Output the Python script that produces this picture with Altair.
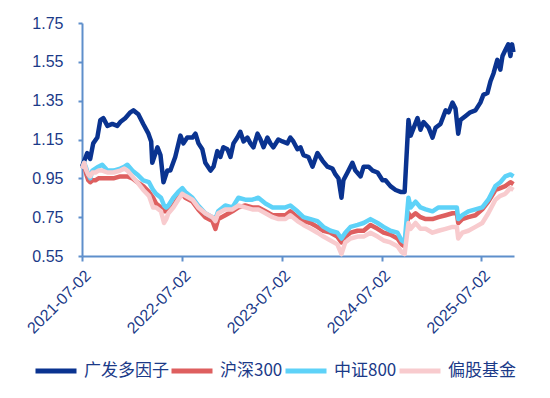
import altair as alt
import pandas as pd

# ---------------- data ----------------
series_names = ["广发多因子", "沪深300", "中证800", "偏股基金"]
series_colors = ["#0A3390", "#DE5F5F", "#5ED2F8", "#F8CBCE"]

fund_dates = [
    "2021-07-02", "2021-07-21", "2021-08-01", "2021-08-12", "2021-08-27", "2021-09-07",
    "2021-09-18", "2021-10-03", "2021-10-21", "2021-11-08", "2021-11-19", "2021-12-07",
    "2021-12-26", "2022-01-06", "2022-01-24", "2022-02-11", "2022-03-02", "2022-03-12",
    "2022-03-16", "2022-04-04", "2022-04-15", "2022-04-26", "2022-05-10", "2022-05-21",
    "2022-06-08", "2022-06-27", "2022-07-08", "2022-07-22", "2022-08-10", "2022-08-21",
    "2022-09-01", "2022-09-15", "2022-09-26", "2022-10-15", "2022-10-26", "2022-11-09",
    "2022-11-20", "2022-12-01", "2022-12-16", "2022-12-27", "2023-01-07", "2023-01-21",
    "2023-02-01", "2023-02-13", "2023-02-27", "2023-03-10", "2023-03-21", "2023-04-05",
    "2023-04-16", "2023-04-27", "2023-05-11", "2023-05-22", "2023-06-02", "2023-06-20",
    "2023-07-05", "2023-07-23", "2023-08-03", "2023-08-14", "2023-08-29", "2023-09-09",
    "2023-09-20", "2023-10-08", "2023-10-23", "2023-11-10", "2023-11-29", "2023-12-17",
    "2024-01-04", "2024-01-15", "2024-01-26", "2024-02-06", "2024-02-13", "2024-02-28",
    "2024-03-17", "2024-03-28", "2024-04-16", "2024-04-27", "2024-05-15", "2024-05-30",
    "2024-06-17", "2024-07-05", "2024-07-16", "2024-08-03", "2024-08-22", "2024-09-09",
    "2024-09-24", "2024-10-08", "2024-10-16", "2024-10-27", "2024-11-10", "2024-11-21",
    "2024-12-02", "2024-12-21", "2025-01-04", "2025-01-15", "2025-02-02", "2025-02-21",
    "2025-03-04", "2025-03-18", "2025-03-29", "2025-04-08", "2025-04-16", "2025-05-04",
    "2025-05-22", "2025-06-10", "2025-06-28", "2025-07-09", "2025-07-24", "2025-08-04",
    "2025-08-15", "2025-08-29", "2025-09-09", "2025-09-17", "2025-09-27", "2025-10-08",
    "2025-10-16", "2025-10-22", "2025-10-27",
]
fund_values = [
    1.01, 1.08, 1.05, 1.13, 1.16, 1.25,
    1.26, 1.22, 1.23, 1.22, 1.24, 1.26,
    1.29, 1.30, 1.28, 1.23, 1.18, 1.14,
    1.03, 1.11, 1.07, 0.93, 0.99, 0.99,
    1.06, 1.17, 1.13, 1.16, 1.16, 1.18,
    1.13, 1.10, 1.03, 0.99, 1.01, 1.09,
    1.06, 1.11, 1.10, 1.06, 1.13, 1.16,
    1.19, 1.14, 1.16, 1.13, 1.11, 1.18,
    1.15, 1.11, 1.16, 1.13, 1.11, 1.15,
    1.14, 1.13, 1.16, 1.14, 1.10, 1.11,
    1.07, 1.06, 1.01, 1.08, 1.04, 1.01,
    1.00, 0.97, 0.95, 0.85, 0.94, 0.98,
    1.03, 0.99, 0.96, 1.01, 1.01, 0.99,
    0.98, 0.94, 0.94, 0.91, 0.89, 0.88,
    0.88, 1.25, 1.17, 1.21, 1.26, 1.20,
    1.24, 1.21, 1.16, 1.21, 1.23, 1.30,
    1.29, 1.34, 1.31, 1.18, 1.25, 1.27,
    1.29, 1.30, 1.34, 1.38, 1.39, 1.45,
    1.49, 1.56, 1.51, 1.58, 1.61, 1.64,
    1.58, 1.64, 1.60,
]

index_dates = [
    "2021-07-02", "2021-07-10", "2021-07-18", "2021-07-25", "2021-08-01", "2021-08-09",
    "2021-08-20", "2021-08-31", "2021-09-14", "2021-10-03", "2021-10-25", "2021-11-19",
    "2021-12-04", "2021-12-15", "2022-01-02", "2022-01-20", "2022-02-11", "2022-03-04",
    "2022-03-19", "2022-03-30", "2022-04-17", "2022-04-28", "2022-05-06", "2022-05-14",
    "2022-06-01", "2022-06-19", "2022-07-04", "2022-07-15", "2022-08-10", "2022-08-31",
    "2022-09-26", "2022-10-22", "2022-11-02", "2022-11-12", "2022-12-08", "2023-01-03",
    "2023-01-25", "2023-02-19", "2023-03-17", "2023-04-08", "2023-05-04", "2023-05-30",
    "2023-06-21", "2023-07-16", "2023-08-03", "2023-08-29", "2023-09-20", "2023-10-16",
    "2023-11-10", "2023-12-02", "2023-12-28", "2024-01-22", "2024-02-06", "2024-02-20",
    "2024-03-10", "2024-04-05", "2024-04-27", "2024-05-22", "2024-06-17", "2024-07-09",
    "2024-08-03", "2024-08-29", "2024-09-13", "2024-09-24", "2024-10-08", "2024-10-16",
    "2024-11-03", "2024-11-21", "2024-12-10", "2025-01-04", "2025-01-26", "2025-02-21",
    "2025-03-18", "2025-04-03", "2025-04-08", "2025-04-23", "2025-05-15", "2025-06-10",
    "2025-07-05", "2025-07-27", "2025-08-22", "2025-09-09", "2025-09-27", "2025-10-16",
    "2025-10-27",
]
hs300_values = [
    1.00, 1.02, 0.97, 0.94, 0.93, 0.94,
    0.94, 0.95, 0.95, 0.95, 0.95, 0.96,
    0.96, 0.96, 0.95, 0.93, 0.91, 0.88,
    0.85, 0.82, 0.80, 0.78, 0.78, 0.78,
    0.81, 0.85, 0.87, 0.85, 0.83, 0.79,
    0.75, 0.73, 0.69, 0.74, 0.76, 0.78,
    0.80, 0.81, 0.80, 0.80, 0.78, 0.76,
    0.76, 0.76, 0.78, 0.75, 0.73, 0.72,
    0.70, 0.68, 0.67, 0.65, 0.62, 0.65,
    0.67, 0.68, 0.68, 0.71, 0.69, 0.67,
    0.66, 0.64, 0.61, 0.60, 0.77, 0.75,
    0.77, 0.75, 0.74, 0.74, 0.75, 0.76,
    0.77, 0.77, 0.72, 0.74, 0.75, 0.76,
    0.79, 0.83, 0.89, 0.90, 0.91, 0.93,
    0.92,
]
zz800_values = [
    1.00, 1.03, 1.00, 0.97, 0.95, 0.99,
    1.00, 1.01, 1.02, 0.99, 0.99, 1.00,
    1.01, 1.02, 0.99, 0.97, 0.94, 0.93,
    0.89, 0.87, 0.85, 0.81, 0.80, 0.81,
    0.85, 0.88, 0.90, 0.88, 0.85, 0.81,
    0.77, 0.75, 0.74, 0.78, 0.81, 0.80,
    0.85, 0.84, 0.84, 0.85, 0.82, 0.80,
    0.80, 0.80, 0.81, 0.78, 0.75, 0.74,
    0.73, 0.70, 0.68, 0.67, 0.64, 0.67,
    0.70, 0.71, 0.72, 0.74, 0.72, 0.70,
    0.68, 0.67, 0.63, 0.62, 0.85, 0.80,
    0.83, 0.80, 0.79, 0.78, 0.80, 0.80,
    0.80, 0.80, 0.74, 0.76, 0.78, 0.79,
    0.80, 0.84, 0.91, 0.93, 0.96, 0.97,
    0.96,
]
equity_fund_values = [
    1.00, 1.03, 0.99, 0.97, 0.96, 0.98,
    0.98, 0.99, 0.99, 0.98, 0.98, 0.99,
    1.00, 0.99, 0.96, 0.93, 0.89, 0.86,
    0.80, 0.80, 0.78, 0.72, 0.74, 0.77,
    0.80, 0.84, 0.87, 0.86, 0.84, 0.80,
    0.77, 0.75, 0.73, 0.77, 0.79, 0.79,
    0.81, 0.80, 0.79, 0.79, 0.77, 0.75,
    0.74, 0.74, 0.76, 0.73, 0.71, 0.69,
    0.67, 0.65, 0.63, 0.61, 0.56, 0.62,
    0.64, 0.65, 0.65, 0.67, 0.65, 0.63,
    0.62, 0.60, 0.57, 0.56, 0.72, 0.69,
    0.72, 0.69, 0.69, 0.67, 0.68, 0.69,
    0.70, 0.70, 0.64, 0.67, 0.68, 0.70,
    0.72, 0.77, 0.84, 0.86, 0.87, 0.90,
    0.89,
]

y_ticks = [0.55, 0.75, 0.95, 1.15, 1.35, 1.55, 1.75]
x_tick_dates = [(2021, 7, 2), (2022, 7, 2), (2023, 7, 2), (2024, 7, 2), (2025, 7, 2)]

# ---------------- build table ----------------
frames = [
    pd.DataFrame({"date": fund_dates, "value": fund_values, "series": series_names[0]}),
    pd.DataFrame({"date": index_dates, "value": hs300_values, "series": series_names[1]}),
    pd.DataFrame({"date": index_dates, "value": zz800_values, "series": series_names[2]}),
    pd.DataFrame({"date": index_dates, "value": equity_fund_values, "series": series_names[3]}),
]
df = pd.concat(frames, ignore_index=True)

TEXT = "#1B3A88"
AXIS = "#5E8FCB"

x_enc = alt.X(
    "date:T",
    scale=alt.Scale(
        type="utc",
        domain=[alt.DateTime(year=2021, month=7, date=2, utc=True),
                alt.DateTime(year=2025, month=10, date=29, utc=True)],
        nice=False,
    ),
    axis=alt.Axis(
        values=[alt.DateTime(year=y, month=m, date=d, utc=True) for (y, m, d) in x_tick_dates],
        labelExpr="utcFormat(datum.value, '%Y-%m-%d')",
        labelAngle=-45,
        labelPadding=6,
        tickSize=5,
        title=None,
        grid=False,
    ),
)
y_enc = alt.Y(
    "value:Q",
    scale=alt.Scale(domain=[0.55, 1.75], nice=False, zero=False),
    axis=alt.Axis(values=y_ticks, format=".2f", title=None, grid=False,
                  tickSize=4, labelPadding=15),
)
color_enc = alt.Color(
    "series:N",
    scale=alt.Scale(domain=series_names, range=series_colors),
    sort=series_names,
    legend=alt.Legend(
        title=None,
        orient="none",
        direction="horizontal",
        legendX=-49,
        legendY=325,
        symbolType="stroke",
        symbolSize=1681,
        symbolStrokeWidth=5,
        labelFontSize=17,
        labelFont="Noto Sans CJK SC",
        labelColor=TEXT,
        labelOffset=5,
        columnPadding=-8,
        padding=0,
    ),
)

layers = []
for name in series_names:
    layers.append(
        alt.Chart(df)
        .transform_filter(alt.datum.series == name)
        .mark_line(strokeWidth=4.5, strokeJoin="round")
        .encode(x=x_enc, y=y_enc, color=color_enc)
    )

chart = (
    alt.layer(*layers)
    .properties(
        width=432,
        height=233,
        autosize=alt.AutoSizeParams(type="none"),
        padding={"left": 74, "top": 15, "right": 20, "bottom": 130},
    )
    .configure_view(stroke=None)
    .configure_axis(
        domainColor=AXIS,
        domainWidth=2,
        tickColor=AXIS,
        tickWidth=2,
        labelColor=TEXT,
        labelFont="Liberation Sans",
        labelFontSize=16,
    )
)

chart.save("out.html", embed_options={"renderer": "svg", "actions": False})
